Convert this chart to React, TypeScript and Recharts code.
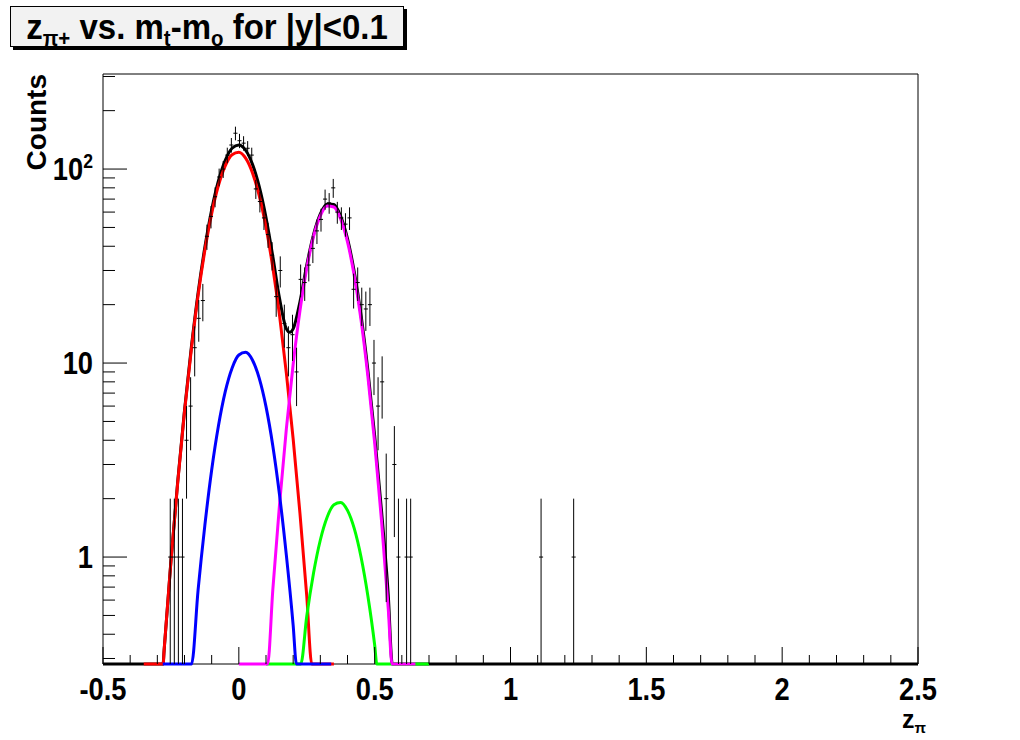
import { ComposedChart, Line, Scatter, ErrorBar, XAxis, YAxis, ReferenceArea } from 'recharts';

// plot range (log y)
const Y_MIN = 0.281;
const Y_MAX = 309;
const BIN_HALF = 0.0075;

const xTicks = [
  -0.5, -0.4, -0.3, -0.2, -0.1, 0, 0.1, 0.2, 0.3, 0.4, 0.5, 0.6, 0.7, 0.8, 0.9, 1, 1.1, 1.2, 1.3, 1.4, 1.5, 1.6,
  1.7, 1.8, 1.9, 2, 2.1, 2.2, 2.3, 2.4, 2.5,
];
const xLabels = [-0.5, 0, 0.5, 1, 1.5, 2, 2.5];
const yTicks = [0.3, 0.4, 0.5, 0.6, 0.7, 0.8, 0.9, 1, 2, 3, 4, 5, 6, 7, 8, 9, 10, 20, 30, 40, 50, 60, 70, 80, 90, 100, 200, 300];
const yMajor = [1, 10, 100];

// histogram (non-empty bins, bin width 0.015)
const histZ = [
  -0.2525, -0.2375, -0.2225, -0.2075, -0.1925, -0.1775, -0.1625, -0.1475, -0.1325, -0.1175, -0.1025, -0.0875, -0.0725,
  -0.0575, -0.0425, -0.0275, -0.0125, 0.0025, 0.0175, 0.0325, 0.0475, 0.0625, 0.0775, 0.0925, 0.1075, 0.1225, 0.1375,
  0.1525, 0.1675, 0.1825, 0.1975, 0.2125, 0.2275, 0.2425, 0.2575, 0.2725, 0.2875, 0.3025, 0.3175, 0.3325, 0.3475, 0.3625,
  0.3775, 0.3925, 0.4075, 0.4225, 0.4375, 0.4525, 0.4675, 0.4825, 0.4975, 0.5125, 0.5275, 0.5425, 0.5725, 0.5875, 0.6175,
  0.6325, 1.1125, 1.2325,
];
const histN = [
  1, 1, 1, 1, 4, 6, 12, 17, 21, 45, 57, 72, 91, 100, 118, 133, 153, 140, 136, 128, 118, 79, 68, 56, 46, 36, 22, 30, 16,
  12, 14, 9, 27, 26, 32, 39, 48, 55, 70, 67, 80, 60, 56, 52, 56, 24, 26, 20, 19, 20, 10, 6, 8, 2, 3, 1, 1, 1, 1, 1,
];

// fit curves (values at the floor are drawn along the bottom)
const totalZ = [
  -0.5, -0.3, -0.279, -0.275, -0.25, -0.225, -0.2, -0.175, -0.15, -0.125, -0.1, -0.075, -0.05, -0.025, 0, 0.025, 0.05,
  0.075, 0.1, 0.125, 0.15, 0.175, 0.1875, 0.2, 0.225, 0.25, 0.275, 0.3, 0.325, 0.35, 0.375, 0.4, 0.425, 0.45, 0.475, 0.5,
  0.525, 0.55, 0.565, 0.6, 2.5,
];
const totalV = [
  Y_MIN, Y_MIN, Y_MIN, 0.33, 0.95, 2.45, 5.7, 12.0, 23.0, 39.6, 61.7, 87.1, 111, 128, 133, 125, 106, 81.3, 56.3, 35.5,
  21.5, 15.0, 14.4, 15.0, 20.7, 32.0, 45.9, 58.7, 66.1, 65.6, 57.1, 43.8, 29.5, 17.6, 9.18, 4.23, 1.75, 0.64, Y_MIN,
  Y_MIN, Y_MIN,
];

const redZ = [
  -0.35, -0.3, -0.2785, -0.275, -0.25, -0.225, -0.2, -0.175, -0.15, -0.125, -0.1, -0.075, -0.05, -0.025, 0, 0.025, 0.05,
  0.075, 0.1, 0.125, 0.15, 0.175, 0.2, 0.225, 0.25, 0.2685, 0.3, 0.35,
];
const redV = [
  Y_MIN, Y_MIN, Y_MIN, 0.332, 0.944, 2.42, 5.61, 11.7, 22.3, 38.1, 58.9, 82.3, 103.9, 118.6, 122.2, 113.8, 95.8, 72.9,
  50.1, 31.1, 17.5, 8.85, 4.06, 1.68, 0.63, Y_MIN, Y_MIN, Y_MIN,
];

const blueZ = [-0.28, -0.174, -0.15, -0.125, -0.1, -0.075, -0.05, -0.025, 0, 0.025, 0.05, 0.075, 0.1, 0.125, 0.15, 0.175, 0.2, 0.212, 0.34];
const blueV = [Y_MIN, Y_MIN, 0.675, 1.46, 2.81, 4.75, 7.12, 9.41, 11.0, 11.36, 10.37, 8.36, 5.96, 3.75, 2.08, 1.02, 0.445, Y_MIN, Y_MIN];

const magentaZ = [
  0.0, 0.106, 0.125, 0.15, 0.175, 0.2, 0.225, 0.25, 0.275, 0.3, 0.325, 0.35, 0.375, 0.4, 0.425, 0.45, 0.475, 0.5, 0.525,
  0.55, 0.564, 0.65,
];
const magentaV = [
  Y_MIN, Y_MIN, 0.675, 1.88, 4.59, 9.86, 18.6, 30.8, 44.9, 57.4, 64.5, 63.7, 55.2, 42.1, 28.1, 16.6, 8.55, 3.88, 1.55,
  0.542, Y_MIN, Y_MIN,
];

const greenZ = [0.1, 0.228, 0.25, 0.275, 0.3, 0.325, 0.35, 0.375, 0.4, 0.425, 0.45, 0.475, 0.5, 0.508, 0.7];
const greenV = [Y_MIN, Y_MIN, 0.495, 0.827, 1.224, 1.604, 1.862, 1.911, 1.739, 1.4, 0.998, 0.63, 0.352, Y_MIN, Y_MIN];

const FONT = "'Liberation Sans', Arial, Helvetica, sans-serif";

const toCurve = (zs: number[], vs: number[]) => zs.map((z, i) => ({ z, v: vs[i] }));

// ROOT-ish labels: tall, a bit narrow
function XTick(props: any) {
  const { x, y, payload } = props;
  const v = payload.value;
  const major = xLabels.some((l) => Math.abs(l - v) < 1e-6);
  return (
    <g>
      <line x1={x} x2={x} y1={y} y2={y - (major ? 17 : 9)} stroke="#000" strokeWidth={1} />
      {major && (
        <text
          transform={`translate(${x},${y + 36}) scale(0.88,1)`}
          textAnchor="middle"
          fontFamily={FONT}
          fontWeight="bold"
          fontSize={31}
          fill="#000"
        >
          {String(v)}
        </text>
      )}
    </g>
  );
}

function YTick(props: any) {
  const { x, y, payload } = props;
  const v = payload.value;
  const major = yMajor.includes(v);
  return (
    <g>
      <line x1={x} x2={x + (major ? 24 : 12)} y1={y} y2={y} stroke="#000" strokeWidth={1} />
      {major && (
        <text
          transform={`translate(${x - 10},${y + 11}) scale(0.88,1)`}
          textAnchor="end"
          fontFamily={FONT}
          fontWeight="bold"
          fontSize={31}
          fill="#000"
        >
          {v === 100 ? (
            <>
              <tspan>10</tspan>
              <tspan dy={-12} fontSize={20}>
                2
              </tspan>
            </>
          ) : (
            String(v)
          )}
        </text>
      )}
    </g>
  );
}

export default function App() {
  const hist = histZ.map((z, i) => {
    const n = histN[i];
    const e = Math.sqrt(n);
    return { z, v: n, ex: BIN_HALF, ey: [Math.min(e, n - Y_MIN), e] };
  });

  const lineProps = {
    dataKey: 'v',
    type: 'monotone' as const,
    dot: false,
    activeDot: false,
    strokeWidth: 3,
    isAnimationActive: false,
  };

  const sub = { fontSize: '62%', verticalAlign: '-0.35em', lineHeight: 0 } as const;

  return (
    <div style={{ position: 'absolute', left: 0, top: 0, width: 1020, height: 740, background: '#fff', fontFamily: FONT }}>
      <ComposedChart width={1020} height={740} margin={{ top: 74, right: 102, bottom: 36, left: 23 }}>
        <XAxis
          type="number"
          dataKey="z"
          domain={[-0.5, 2.5]}
          ticks={xTicks}
          interval={0}
          tick={XTick}
          tickSize={0}
          tickMargin={0}
          tickLine={false}
          axisLine={false}
          height={40}
        />
        <YAxis
          type="number"
          dataKey="v"
          scale="log"
          domain={[Y_MIN, Y_MAX]}
          ticks={yTicks}
          interval={0}
          tick={YTick}
          tickSize={0}
          tickMargin={0}
          tickLine={false}
          axisLine={false}
          width={80}
        />
        <ReferenceArea x1={-0.5} x2={2.5} y1={Y_MIN} y2={Y_MAX} fill="none" stroke="#000" strokeWidth={1} />
        <Line data={toCurve(totalZ, totalV)} stroke="#000000" {...lineProps} />
        <Line data={toCurve(redZ, redV)} stroke="#ff0000" {...lineProps} />
        <Line data={toCurve(greenZ, greenV)} stroke="#00ff00" {...lineProps} />
        <Line data={toCurve(magentaZ, magentaV)} stroke="#ff00ff" {...lineProps} />
        <Line data={toCurve(blueZ, blueV)} stroke="#0000ff" {...lineProps} />
        <Scatter data={hist} dataKey="v" shape={() => <g />} isAnimationActive={false}>
          <ErrorBar dataKey="ey" direction="y" width={0} stroke="#000" strokeWidth={1} isAnimationActive={false} />
          <ErrorBar dataKey="ex" direction="x" width={0} stroke="#000" strokeWidth={1} isAnimationActive={false} />
        </Scatter>
      </ComposedChart>

      <div
        style={{
          position: 'absolute',
          left: 10,
          top: 6,
          width: 392,
          height: 39,
          background: '#f2f2f2',
          border: '1px solid #000',
          boxShadow: '3px 3px 0 #000',
          display: 'flex',
          alignItems: 'center',
          justifyContent: 'center',
          fontWeight: 'bold',
          fontSize: 33,
          whiteSpace: 'nowrap',
        }}
      >
        <span style={{ display: 'inline-block', transform: 'scale(1, 1.05)' }}>
          z<span style={sub}>π+</span> vs. m<span style={sub}>t</span>-m<span style={sub}>o</span> for |y|&lt;0.1
        </span>
      </div>

      <div
        style={{
          position: 'absolute',
          left: 37,
          top: 74,
          transformOrigin: '0 0',
          transform: 'rotate(-90deg) translate(-100%, -50%)',
          fontWeight: 'bold',
          fontSize: 28,
          whiteSpace: 'nowrap',
          lineHeight: 1,
        }}
      >
        Counts
      </div>

      <div
        style={{
          position: 'absolute',
          right: 94,
          top: 707,
          fontWeight: 'bold',
          fontSize: 25,
          whiteSpace: 'nowrap',
          lineHeight: 1,
        }}
      >
        z<span style={{ fontSize: '60%', verticalAlign: '-0.35em' }}>π</span>
      </div>
    </div>
  );
}
